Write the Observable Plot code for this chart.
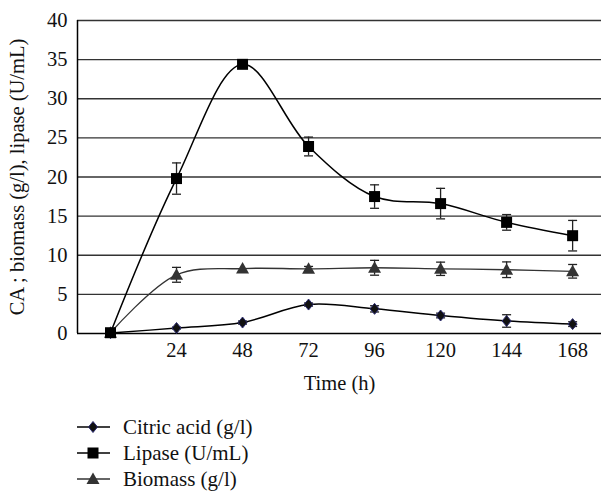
<!DOCTYPE html>
<html>
<head>
<meta charset="utf-8">
<script src="https://cdn.jsdelivr.net/npm/d3@7"></script>
<script src="https://cdn.jsdelivr.net/npm/@observablehq/plot@0.6"></script>
<style>
  html, body { margin: 0; padding: 0; background: #fff; }
  #wrap { position: relative; width: 601px; height: 493px; font-family: "Liberation Serif", serif; }
  #legend { position: absolute; left: 77px; top: 414px; font-size: 21px; color: #111; }
  .row { display: flex; align-items: center; height: 26px; }
  .row svg { margin-right: 13px; }
</style>
</head>
<body>
<div id="wrap"><div id="chart"></div><div id="legend"></div></div>
<script>
const time = [0, 24, 48, 72, 96, 120, 144, 168];
const seriesNames = ["Citric acid (g/l)", "Lipase (U/mL)", "Biomass (g/l)"];
const citric = [0.05, 0.7, 1.4, 3.7, 3.15, 2.3, 1.6, 1.2];
const citricErr = [0, 0.12, 0.2, 0.2, 0.4, 0.3, 0.8, 0.3];
const lipase = [0.1, 19.8, 34.4, 23.9, 17.5, 16.6, 14.2, 12.5];
const lipaseErr = [0, 2.0, 0, 1.2, 1.5, 1.95, 1.0, 1.95];
const biomass = [0.1, 7.5, 8.3, 8.27, 8.4, 8.27, 8.15, 7.95];
const biomassErr = [0, 0.95, 0, 0.3, 0.95, 0.85, 1.0, 0.87];
const yTicks = [0, 5, 10, 15, 20, 25, 30, 35, 40];
const xTicks = [24, 48, 72, 96, 120, 144, 168];

const FONT = "Liberation Serif";

function rows(vals, errs) { return time.map((t, i) => ({t, v: vals[i], e: errs[i]})); }
const C = rows(citric, citricErr), L = rows(lipase, lipaseErr), B = rows(biomass, biomassErr);

const diamond = {draw(ctx) { ctx.moveTo(0, -5.5); ctx.lineTo(4.5, 0); ctx.lineTo(0, 5.5); ctx.lineTo(-4.5, 0); ctx.closePath(); }};
const square = {draw(ctx) { ctx.rect(-5.5, -5.5, 11, 11); }};
const triangle = {draw(ctx) { ctx.moveTo(0, -6.5); ctx.lineTo(6.5, 5); ctx.lineTo(-6.5, 5); ctx.closePath(); }};
const cap = {draw(ctx) { ctx.moveTo(-4.5, 0); ctx.lineTo(4.5, 0); }};

function errMarks(data, color) {
  const d = data.filter(r => r.e > 0);
  return [
    Plot.ruleX(d, {x: "t", y1: r => r.v - r.e, y2: r => r.v + r.e, stroke: color, strokeWidth: 1.3}),
    Plot.dot(d, {x: "t", y: r => r.v + r.e, symbol: cap, stroke: color, strokeWidth: 1.3, fill: "none"}),
    Plot.dot(d, {x: "t", y: r => r.v - r.e, symbol: cap, stroke: color, strokeWidth: 1.3, fill: "none"})
  ];
}

const chart = Plot.plot({
  width: 601, height: 400,
  marginLeft: 77, marginRight: 0, marginTop: 20, marginBottom: 67,
  style: {fontSize: "20.5px", color: "#111", background: "#fff"},
  x: {domain: [-12, 178.5]},
  y: {domain: [0, 40]},
  marks: [
    Plot.ruleY(yTicks.slice(1), {stroke: "#333", strokeWidth: 1.3}),
    Plot.axisY({ticks: yTicks, tickSize: 0, tickPadding: 10, fontSize: 20.5, fontFamily: FONT, label: "CA ; biomass (g/l), lipase (U/mL)", labelAnchor: "center", labelArrow: "none", labelOffset: 68}),
    Plot.axisX({ticks: xTicks, tickSize: 0, tickPadding: 9, fontSize: 20.5, fontFamily: FONT, label: "Time (h)", labelAnchor: "center", labelArrow: "none", labelOffset: 56}),
    Plot.ruleX([-12], {stroke: "#000", strokeWidth: 1.5}),
    Plot.ruleY([0], {stroke: "#000", strokeWidth: 1.5}),
    Plot.line(B, {x: "t", y: "v", curve: "catmull-rom", stroke: "#333", strokeWidth: 1.3}),
    Plot.line(L, {x: "t", y: "v", curve: "catmull-rom", stroke: "#000", strokeWidth: 1.5}),
    Plot.line(C, {x: "t", y: "v", curve: "catmull-rom", stroke: "#000", strokeWidth: 1.5}),
    ...errMarks(B, "#222"),
    ...errMarks(L, "#222"),
    ...errMarks(C, "#222"),
    Plot.dot(B, {x: "t", y: "v", symbol: triangle, fill: "#333", stroke: "none"}),
    Plot.dot(C, {x: "t", y: "v", symbol: diamond, fill: "#111", stroke: "#2b2b70", strokeWidth: 1}),
    Plot.dot(L, {x: "t", y: "v", symbol: square, fill: "#000", stroke: "none"})
  ]
});
chart.setAttribute("font-family", FONT);
chart.style.fontFamily = FONT;
chart.querySelectorAll("g, text").forEach(el => { el.setAttribute("font-family", FONT); el.style.fontFamily = FONT; });
document.getElementById("chart").appendChild(chart);

const legendSymbols = [
  `<path d="M16,-5.5L20.5,0L16,5.5L11.5,0Z" fill="#111" stroke="#2b2b70"/>`,
  `<rect x="10.5" y="-5.5" width="11" height="11" fill="#000"/>`,
  `<path d="M16,-6.5L22.5,5L9.5,5Z" fill="#333"/>`
];
const legendStroke = ["#000", "#000", "#333"];
const legend = document.getElementById("legend");
seriesNames.forEach((name, i) => {
  const row = document.createElement("div");
  row.className = "row";
  row.innerHTML = `<svg width="33" height="16" viewBox="0 -8 33 16"><line x1="0" x2="33" y1="0" y2="0" stroke="${legendStroke[i]}" stroke-width="1.5"/>${legendSymbols[i]}</svg><span>${name}</span>`;
  legend.appendChild(row);
});
</script>
</body>
</html>
